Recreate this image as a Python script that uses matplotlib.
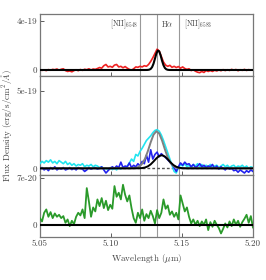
import numpy as np
import matplotlib
matplotlib.use("Agg")
import matplotlib.pyplot as plt

plt.rcParams['font.family'] = ['cmr10', 'DejaVu Serif']
plt.rcParams['mathtext.fontset'] = 'cm'
plt.rcParams['axes.unicode_minus'] = False

# wavelength sampling grid (micron)
wave = np.linspace(5.05, 5.20, 101)

# top panel: red spectrum (units of 1e-19)
red_flux = [0.02, -0.03, 0.00, -0.05, 0.03, -0.02, 0.05, 0.02, 0.08, -0.02,
            0.06, 0.10, -0.05, -0.12, -0.08, -0.15, -0.05, 0.02, -0.06, 0.04,
            -0.03, 0.06, 0.02, 0.10, 0.00, 0.08, 0.05, 0.12, 0.20, 0.15,
            0.35, 0.45, 0.25, 0.30, 0.22, 0.40, 0.45, 0.25, 0.30, 0.18,
            0.28, 0.15, 0.05, -0.02, 0.10, 0.25, 0.22, 0.30, 0.25, 0.35,
            0.30, 0.45, 0.70, 1.00, 1.35, 1.70, 1.55, 1.10, 0.65, 0.40,
            0.30, 0.38, 0.22, 0.30, 0.20, 0.28, 0.15, 0.25, 0.12, 0.05,
            0.10, -0.05, 0.02, -0.10, -0.18, -0.22, -0.12, -0.20, -0.05, -0.12,
            -0.05, -0.12, -0.02, -0.08, 0.00, -0.06, 0.03, -0.05, 0.02, -0.04,
            0.05, -0.02, 0.04, -0.06, 0.02, -0.03, 0.05, -0.04, 0.03, -0.02, 0.01]

# top panel model (units of 1e-19)
top_model_x = [5.05, 5.122, 5.124, 5.125, 5.126, 5.127, 5.128, 5.129, 5.130,
               5.131, 5.132, 5.133, 5.134, 5.135, 5.136, 5.137, 5.138, 5.139,
               5.140, 5.141, 5.142, 5.143, 5.20]
top_model_y = [0.0, 0.0, 0.0002, 0.0013, 0.0065, 0.0265, 0.088, 0.237, 0.520,
               0.926, 1.344, 1.585, 1.521, 1.187, 0.753, 0.389, 0.163, 0.056,
               0.0155, 0.0035, 0.0006, 0.0, 0.0]

# middle panel: cyan and blue spectra (units of 1e-19)
cyan_flux = [0.30, 0.45, 0.35, 0.50, 0.40, 0.55, 0.35, 0.45, 0.30, 0.50,
             0.40, 0.30, 0.45, 0.25, 0.35, 0.20, 0.30, 0.15, 0.25, 0.20,
             0.30, 0.10, 0.20, 0.15, 0.25, 0.10, 0.20, 0.15, 0.05, 0.10,
             -0.05, 0.00, -0.10, 0.05, -0.08, 0.00, -0.10, 0.05, -0.05, 0.10,
             0.00, 0.15, 0.35, 0.60, 0.45, 0.90, 0.80, 1.10, 1.30, 1.55,
             1.80, 1.95, 2.10, 2.30, 2.45, 2.50, 2.40, 2.15, 1.80, 1.40,
             1.00, 0.60, 0.20, -0.20, -0.30, 0.05, 0.25, 0.15, 0.30, 0.10,
             0.20, 0.05, 0.25, 0.15, 0.30, 0.10, 0.25, 0.05, 0.20, 0.10,
             0.25, 0.05, 0.15, 0.20, 0.05, 0.15, 0.25, 0.10, 0.20, 0.05,
             0.15, 0.20, 0.05, 0.15, 0.10, 0.20, 0.05, 0.15, 0.00, 0.10, 0.05]
blue_flux = [-0.05, 0.05, -0.10, 0.00, -0.15, 0.05, -0.05, 0.10, -0.10, 0.00,
             -0.05, 0.05, -0.10, -0.05, 0.05, -0.08, 0.00, -0.10, 0.05, 0.00,
             -0.05, -0.20, -0.10, 0.05, -0.05, 0.00, 0.05, -0.05, 0.00, 0.10,
             -0.10, -0.30, -0.15, 0.00, 0.10, 0.00, 0.15, 0.05, 0.40, 0.05,
             0.15, 0.10, 0.35, 0.05, 0.20, 0.10, 0.30, 0.15, 0.45, 0.30,
             0.85, 0.40, 1.20, 0.60, 0.90, 1.05, 0.75, 0.95, 0.80, 0.70,
             0.55, 0.40, 0.25, 0.05, -0.20, 0.10, 0.35, 0.20, 0.40, 0.25,
             0.30, 0.10, 0.25, 0.05, 0.15, 0.30, 0.10, 0.20, 0.05, 0.15,
             0.10, 0.25, 0.00, 0.15, -0.05, 0.10, 0.00, -0.10, 0.05, -0.05,
             0.00, -0.15, -0.10, -0.25, -0.10, -0.20, -0.30, -0.15, -0.25, -0.10, -0.20]

# middle panel models (units of 1e-19)
gray_model_x = [5.05, 5.114, 5.116, 5.118, 5.120, 5.122, 5.124, 5.126, 5.128,
                5.130, 5.132, 5.134, 5.136, 5.138, 5.140, 5.142, 5.144, 5.146,
                5.148, 5.150, 5.20]
gray_model_y = [0.0, 0.003, 0.013, 0.043, 0.122, 0.300, 0.625, 1.112, 1.686,
                2.178, 2.398, 2.250, 1.798, 1.225, 0.711, 0.352, 0.148, 0.053,
                0.016, 0.004, 0.0]
black_model_x = [5.05, 5.116, 5.118, 5.120, 5.122, 5.124, 5.126, 5.128, 5.130,
                 5.132, 5.134, 5.136, 5.138, 5.140, 5.142, 5.144, 5.146, 5.148,
                 5.150, 5.152, 5.154, 5.20]
black_model_y = [0.0, 0.0004, 0.0016, 0.006, 0.020, 0.055, 0.129, 0.260, 0.444,
                 0.646, 0.802, 0.848, 0.765, 0.587, 0.384, 0.214, 0.102, 0.041,
                 0.014, 0.004, 0.0, 0.0]

# bottom panel: green spectrum (units of 1e-20)
green_flux = [1.0, 0.5, 1.8, 2.3, 1.2, 1.9, 1.0, 1.7, 1.2, 1.5,
              1.0, 1.3, 0.3, 0.8, -0.2, 0.6, 0.1, 1.2, 1.8, 1.4,
              2.3, 1.0, 5.5, 3.5, 1.2, 2.6, 2.0, 3.8, 2.8, 4.0,
              2.5, 3.6, 2.2, 3.0, 2.4, 5.8, 4.2, 4.8, 3.8, 6.0,
              4.5, 3.5, 4.4, 2.5, 1.0, 0.3, 1.8, 1.0, 2.3, 0.6,
              1.6, 1.0, 2.1, 1.3, 0.2, 2.2, 1.0, 1.8, 3.8, 2.4,
              2.9, 1.5, 2.0, 1.2, 1.8, 0.8, 4.4, 3.2, 2.0, 2.6,
              1.2, 0.2, 0.8, 0.0, 0.6, -0.2, 0.5, 0.0, 0.8, -0.8,
              0.4, -0.3, 0.6, 0.0, -0.5, -1.3, -0.6, 0.2, -0.4, 0.5,
              -0.2, 0.8, 0.0, 0.6, -0.3, 0.4, 0.9, 1.5, 0.3, 1.3, -0.4]

line_waves = [5.1208, 5.1322, 5.1481]
line_labels = [r'[NII]$_{6548}$', r'H$\alpha$', r'[NII]$_{6583}$']

x_ticks = [5.05, 5.10, 5.15, 5.20]
x_ticklabels = ['5.05', '5.10', '5.15', '5.20']

fig = plt.figure(figsize=(2.66, 2.80), dpi=100)
left, width = 0.150, 0.801
ax1 = fig.add_axes([left, 0.7286, width, 0.2214])
ax2 = fig.add_axes([left, 0.375, width, 0.3536])
ax3 = fig.add_axes([left, 0.1536, width, 0.2214])

spine_c = '#777777'
txt_c = '#444444'
fs = 6.5

e19 = 1e-19
e20 = 1e-20

ax1.plot(wave, np.array(red_flux) * e19, color='#ee2222', lw=1.2, zorder=3)
ax1.plot(top_model_x, np.array(top_model_y) * e19, color='black', lw=1.5, zorder=4)
ax1.set_ylim(-0.49e-19, 4.57e-19)
ax1.set_yticks([0, 4e-19])
ax1.set_yticklabels(['0', '4e-19'])

ax2.plot(wave, np.array(cyan_flux) * e19, color='#22e5f0', lw=1.2, zorder=3)
ax2.plot(wave, np.array(blue_flux) * e19, color='#2222ee', lw=1.2, zorder=3)
ax2.plot(gray_model_x, np.array(gray_model_y) * e19, color='#808080', lw=1.4, zorder=4)
ax2.plot(black_model_x, np.array(black_model_y) * e19, color='black', lw=1.4, zorder=4)
ax2.axhline(0, color='#555555', lw=1.0, ls=(0, (2, 1.5)), zorder=2)
ax2.set_ylim(-0.43e-19, 5.97e-19)
ax2.set_yticks([0, 5e-19])
ax2.set_yticklabels(['0', '5e-19'])
ax2.set_ylabel(r'Flux Density (erg/s/cm$^2$/$\AA$)', fontsize=fs, color=txt_c, labelpad=2)

ax3.plot(wave, np.array(green_flux) * e20, color='#2a9a2a', lw=1.3, zorder=3)
ax3.axhline(0, color='black', lw=1.5, zorder=4)
ax3.set_ylim(-1.83e-20, 7.46e-20)
ax3.set_yticks([0, 7e-20])
ax3.set_yticklabels(['0', '7e-20'])
ax3.set_xlabel(r'Wavelength ($\mu$m)', fontsize=fs, color=txt_c, labelpad=3)

for ax in (ax1, ax2, ax3):
    ax.set_xlim(5.05, 5.20)
    ax.set_xticks(x_ticks)
    for lw_ in line_waves:
        ax.axvline(lw_, color='#999999', lw=0.8, zorder=1)
    for s in ax.spines.values():
        s.set_color(spine_c)
        s.set_linewidth(0.9)
    ax.tick_params(direction='in', length=3, width=0.6, colors=txt_c,
                   labelsize=fs, pad=2)
    ax.tick_params(axis='x', top=False)

ax1.set_xticklabels([])
ax2.set_xticklabels([])
ax3.set_xticklabels(x_ticklabels)

ax1.text(line_waves[0] - 0.0015, 0.84, line_labels[0], transform=ax1.get_xaxis_transform(),
         ha='right', va='center', fontsize=5.5, color=txt_c)
ax1.text(line_waves[1] + 0.003, 0.84, line_labels[1], transform=ax1.get_xaxis_transform(),
         ha='left', va='center', fontsize=5.5, color=txt_c)
ax1.text(line_waves[2] + 0.003, 0.84, line_labels[2], transform=ax1.get_xaxis_transform(),
         ha='left', va='center', fontsize=5.5, color=txt_c)

fig.savefig('out.png', dpi=100)
